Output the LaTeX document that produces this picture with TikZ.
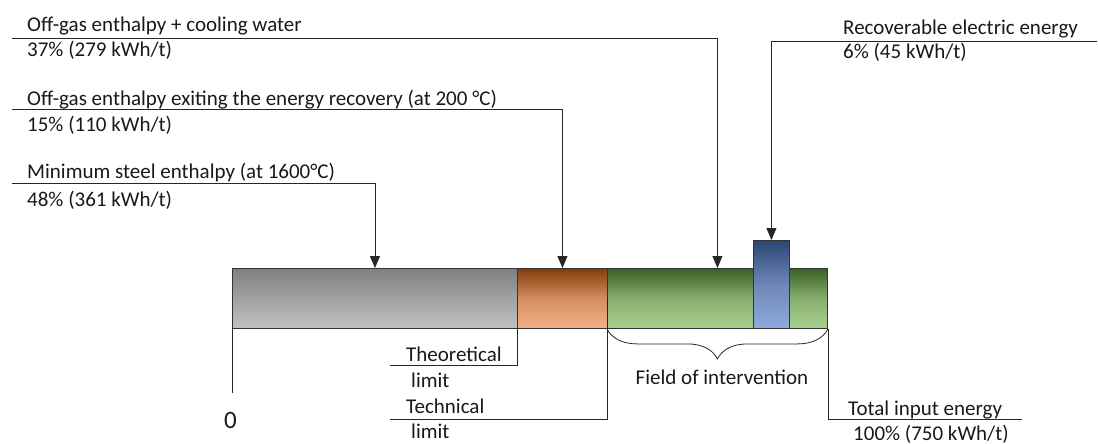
\documentclass[tikz,border=0pt]{standalone}
\usepackage{fontspec}
\setmainfont{Carlito}
\usetikzlibrary{arrows.meta,decorations.pathreplacing}
\definecolor{steelT}{HTML}{808080}
\definecolor{steelB}{HTML}{C2C2C2}
\definecolor{gasT}{HTML}{843C0C}
\definecolor{gasB}{HTML}{F4B183}
\definecolor{fieldT}{HTML}{3A5E27}
\definecolor{fieldB}{HTML}{A9D18E}
\definecolor{elecT}{HTML}{2C4675}
\definecolor{elecB}{HTML}{8FAADC}
\begin{document}
\begin{tikzpicture}[x=1pt,y=-1pt,
  lbl/.style={anchor=base west,inner sep=0pt,text=black!90,font=\fontsize{21}{25}\selectfont},
  bar/.style={draw=black!80,line width=0.9pt,anchor=north west,inner sep=0pt,minimum height=60pt},
  lead/.style={draw=black!85,line width=0.8pt},
  arr/.style={lead,-{Triangle[width=10pt,length=12pt]}}]
\useasboundingbox (0,0) rectangle (1098,444);

% energy bar segments
\node[bar,minimum width=285pt,top color=steelT,bottom color=steelB] (steel) at (232,268) {};
\node[bar,minimum width=90pt,top color=gasT,bottom color=gasB,middle color=gasB!70!gasT] (gas) at (517,268) {};
\node[bar,minimum width=220pt,top color=fieldT,bottom color=fieldB,middle color=fieldB!70!fieldT] (field) at (607,268) {};
\node[bar,minimum width=36pt,minimum height=88pt,top color=elecT,bottom color=elecB,middle color=elecB!65!elecT] (elec) at (753,240) {};

% labels above the bar
\coordinate (l1) at (12,38);
\coordinate (l2) at (12,109);
\coordinate (l3) at (12,183);
\coordinate (l4) at (1097,41);
\node[lbl] (t1) at (27,32) {Off-gas enthalpy + cooling water};
\node[lbl] (v1) at (27,57) {37\% (279 kWh/t)};
\node[lbl] (t2) at (27,106) {Off-gas enthalpy exiting the energy recovery (at 200 °C)};
\node[lbl] (v2) at (27,131) {15\% (110 kWh/t)};
\node[lbl] (t3) at (27,178) {Minimum steel enthalpy (at 1600°C)};
\node[lbl] (v3) at (27,206) {48\% (361 kWh/t)};
\node[lbl] (t4) at (843,35) {Recoverable electric energy};
\node[lbl] (v4) at (843,59) {6\% (45 kWh/t)};

\draw[arr] (l1) -| (field.north);
\draw[arr] (l2) -| (gas.north);
\draw[arr] (l3) -| (steel.north);
\draw[arr] (l4) -| (elec.north);

% markers below the bar
\coordinate (zero) at (232,393);
\coordinate (thl) at (390,365);
\coordinate (tel) at (390,419);
\coordinate (tot) at (1022,419);
\draw[lead] (steel.south west) -- (zero);
\draw[lead] (gas.south west) |- (thl);
\draw[lead] (field.west) |- (tel);
\draw[lead] (field.south east) |- (tot);

\node[lbl,font=\fontsize{25}{28}\selectfont] (z) at (224,428) {0};
\node[lbl] (th1) at (406,361) {Theoretical};
\node[lbl] (th2) at (411,387) {limit};
\node[lbl] (te1) at (406,413) {Technical};
\node[lbl] (te2) at (411,438) {limit};
\node[lbl] (tt1) at (848,415) {Total input energy};
\node[lbl] (tt2) at (853,440) {100\% (750 kWh/t)};

% brace under the field of intervention
\draw[lead,decorate,decoration={brace,mirror,amplitude=30pt}]
  (field.south west) -- (field.south east);
\node[lbl,anchor=base] (foi) at (722,384) {Field of intervention};
\end{tikzpicture}
\end{document}
